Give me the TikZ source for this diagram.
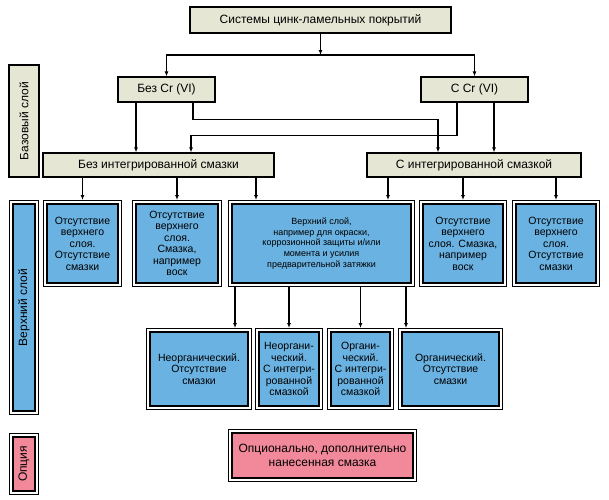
\documentclass[tikz,border=0pt]{standalone}
\usepackage{fontspec}
\setmainfont{Liberation Sans}
\usetikzlibrary{arrows.meta, positioning, calc}
\definecolor{boxbeige}{HTML}{E6E6D5}
\definecolor{boxblue}{HTML}{6AB2E2}
\definecolor{boxpink}{HTML}{F1899A}
\tikzset{
    arr/.style={line width=1.2pt, -{Latex[length=5pt, width=4pt]}},
    headbox/.style={draw, line width=1.2pt, fill=boxbeige, inner sep=1pt, align=center, font=\fontsize{12}{14}\selectfont},
    dblframe/.style={draw, line width=1.6pt, fill=#1, inner sep=1pt, outer sep=3.8pt, align=center,
        preaction={draw=black, line width=7.6pt}, preaction={draw=white, line width=5.6pt}},
    bluebox/.style={dblframe=boxblue, font=\fontsize{10.5}{11.5}\selectfont},
    pinkbox/.style={dblframe=boxpink, font=\fontsize{12}{13.3}\selectfont}
}

\begin{document}
\begin{tikzpicture}[x=1pt, y=-1pt]
    \useasboundingbox (0,0) rectangle (609,499);

    %Base layer
    \node[headbox, minimum width=261pt, minimum height=26pt] (sys) at (320.5,20) {Системы цинк-ламельных покрытий};
    \node[headbox, minimum width=97pt, minimum height=25pt] (nocr) at (166.5,89.5) {Без Cr (VI)};
    \node[headbox, minimum width=107pt, minimum height=25pt] (withcr) at (474.5,89.5) {С Cr (VI)};
    \node[headbox, minimum width=231pt, minimum height=24pt] (nolub) at (158.5,165) {Без интегрированной смазки};
    \node[headbox, minimum width=214pt, minimum height=24pt] (withlub) at (474,165) {С интегрированной смазкой};
    \node[headbox, rotate=90, minimum width=112pt, minimum height=30pt] (baselbl) at (24,121) {Базовый слой};

    %Top layer
    \node[bluebox, minimum width=71.4pt, minimum height=79.4pt] (top1) at (82.5,243.5) {Отсутствие\\верхнего\\слоя.\\Отсутствие\\смазки};
    \node[bluebox, minimum width=82.4pt, minimum height=79.4pt] (top2) at (177,243.5) {Отсутствие\\верхнего\\слоя.\\Смазка,\\например\\воск};
    \node[bluebox, font=\fontsize{9}{10.8}\selectfont, minimum width=179.4pt, minimum height=79.4pt] (top3) at (321.5,243.5) {Верхний слой,\\например для окраски,\\коррозионной защиты и/или\\момента и усилия\\предварительной затяжки};
    \node[bluebox, minimum width=80.4pt, minimum height=79.4pt] (top4) at (463,243.5) {Отсутствие\\верхнего\\слоя. Смазка,\\например\\воск};
    \node[bluebox, minimum width=80.4pt, minimum height=79.4pt] (top5) at (556,243.5) {Отсутствие\\верхнего\\слоя.\\Отсутствие\\смазки};
    \node[bluebox, font=\fontsize{12}{14}\selectfont, rotate=90, minimum width=207.4pt, minimum height=22.4pt] (toplbl) at (24,307.5) {Верхний слой};

    \node[bluebox, minimum width=98.4pt, minimum height=74.4pt] (low1) at (199,369) {Неорганический.\\Отсутствие\\смазки};
    \node[bluebox, minimum width=60.4pt, minimum height=74.4pt] (low2) at (289,369) {Неоргани-\\ческий.\\С интегри-\\рованной\\смазкой};
    \node[bluebox, minimum width=59.4pt, minimum height=74.4pt] (low3) at (360.5,369) {Органи-\\ческий.\\С интегри-\\рованной\\смазкой};
    \node[bluebox, minimum width=97.4pt, minimum height=74.4pt] (low4) at (450.5,369) {Органический.\\Отсутствие\\смазки};

    %Option
    \node[pinkbox, minimum width=181.4pt, minimum height=45.4pt] (opt) at (322.5,455.5) {Опционально, дополнительно\\нанесенная смазка};
    \node[pinkbox, rotate=90, minimum width=54.4pt, minimum height=22.4pt] (optlbl) at (24,464) {Опция};

    %Lines (Base layer)
    \coordinate (fork) at (320.5,55);
    \draw[arr] (sys) -- (fork);
    \draw[arr] (fork) -| (nocr);
    \draw[arr] (fork) -| (withcr);
    \draw[arr] ([xshift=-30.5pt]nocr.south) -- ([xshift=-30.5pt]nocr.south |- nolub.north);
    \draw[arr] ([xshift=26.5pt]nocr.south) -- ++(0,17) -| ([xshift=-36pt]withlub.north);
    \draw[arr] ([xshift=-17.5pt]withcr.south) -- ++(0,33) -| ([xshift=32.5pt]nolub.north);
    \draw[arr] ([xshift=19.5pt]withcr.south) -- ([xshift=19.5pt]withcr.south |- withlub.north);

    %Lines (Top layer)
    \draw[arr] (top1.north |- nolub.south) -- (top1);
    \draw[arr] (top2.north |- nolub.south) -- (top2);
    \draw[arr] ([xshift=28pt]top3.north west |- nolub.south) -- ([xshift=28pt]top3.north west);
    \draw[arr] ([xshift=-27pt]top3.north east |- withlub.south) -- ([xshift=-27pt]top3.north east);
    \draw[arr] (top4.north |- withlub.south) -- (top4);
    \draw[arr] (top5.north |- withlub.south) -- (top5);

    \draw[arr] ([xshift=7pt]top3.south west) -- ([xshift=7pt]top3.south west |- low1.north);
    \draw[arr] (top3.south -| low2) -- (low2);
    \draw[arr] (top3.south -| low3) -- (low3);
    \draw[arr] ([xshift=-9pt]top3.south east) -- ([xshift=-9pt]top3.south east |- low4.north);
\end{tikzpicture}
\end{document}
